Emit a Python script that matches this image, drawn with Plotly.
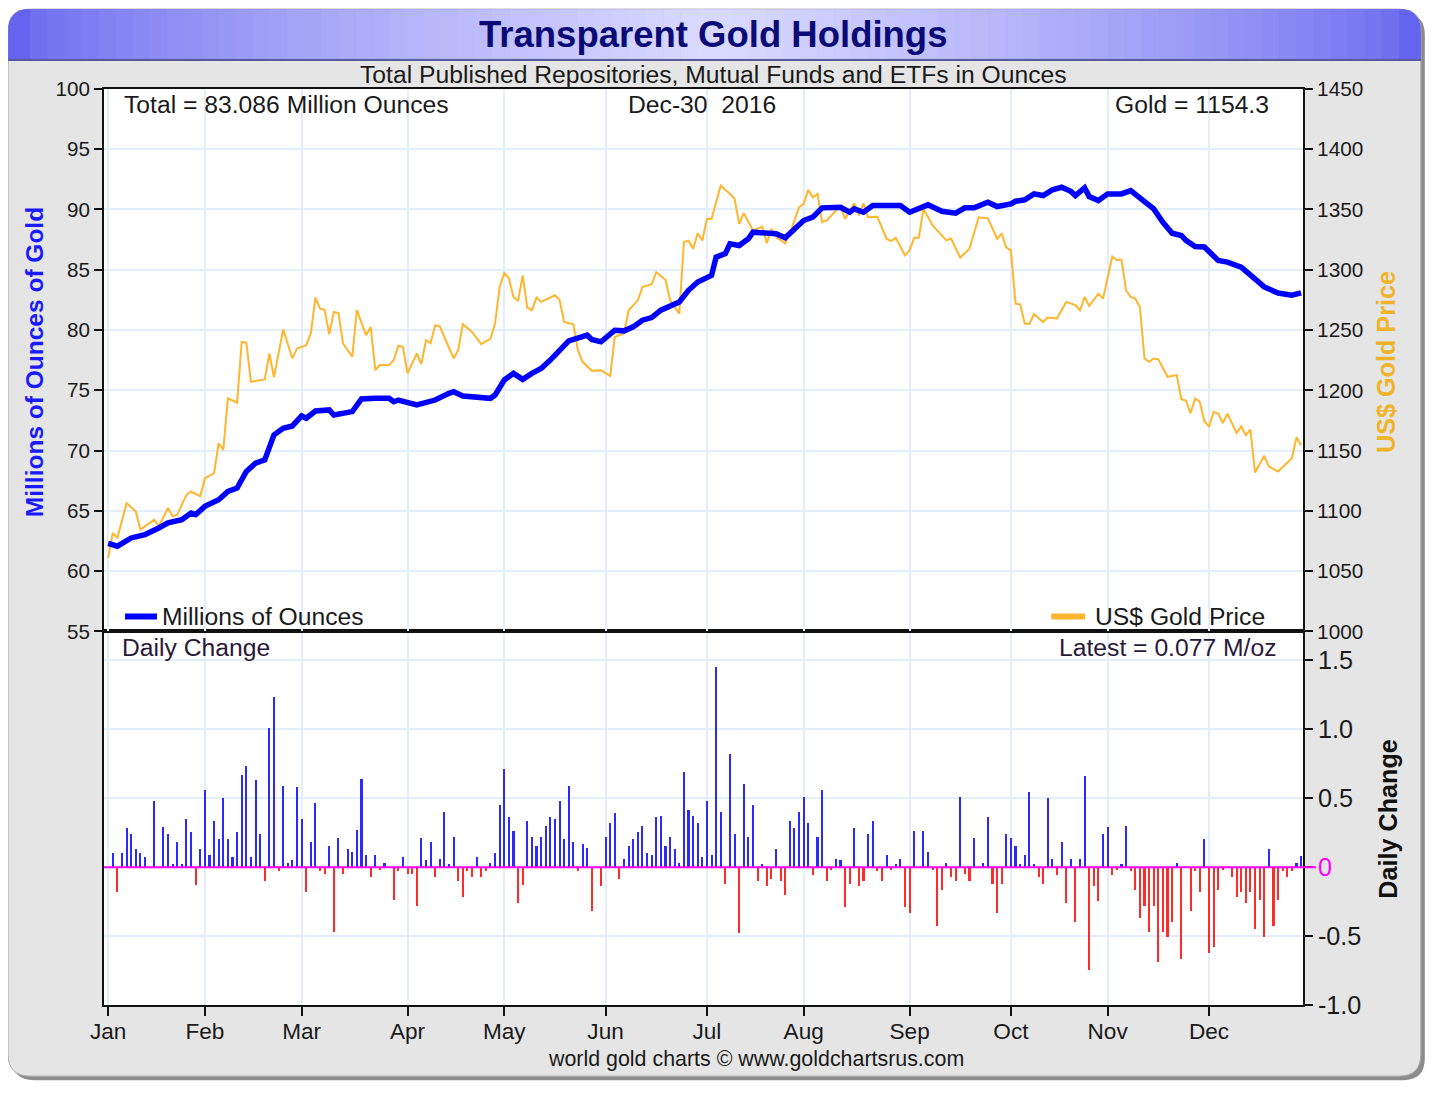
import plotly.graph_objects as go

# ---------------- data ----------------
month_names = ["Jan", "Feb", "Mar", "Apr", "May", "Jun", "Jul", "Aug", "Sep", "Oct", "Nov", "Dec"]
month_start_day = [0, 21, 42, 65, 86, 108, 130, 151, 174, 196, 217, 239]   # weekday index in 2016

hold_day = [0, 2, 5, 8, 11, 13, 16, 18, 19, 21, 24, 26, 28, 30, 32, 34, 36, 38, 40, 42, 43, 45, 48, 49,
            53, 55, 58, 61, 62, 63, 67, 71, 74, 75, 77, 80, 83, 84, 86, 88, 90, 92, 94, 96, 98, 100,
            104, 105, 107, 108, 110, 112, 114, 116, 118, 120, 123, 124, 126, 128, 131, 132, 134, 135,
            137, 139, 140, 143, 145, 147, 149, 151, 153, 155, 159, 161, 162, 164, 166, 172, 174, 176,
            178, 181, 184, 186, 188, 191, 193, 196, 197, 199, 201, 203, 205, 207, 209, 210, 212, 213,
            215, 217, 220, 222, 224, 227, 229, 231, 233, 234, 236, 238, 241, 243, 246, 248, 251, 254,
            257, 259]
hold_moz = [62.3, 62.07, 62.75, 63.03, 63.58, 64.0, 64.27, 64.82, 64.68, 65.37, 65.92, 66.61, 66.89,
            68.26, 68.96, 69.23, 71.3, 71.85, 72.04, 72.87, 72.68, 73.28, 73.37, 72.95, 73.23, 74.28,
            74.33, 74.33, 74.05, 74.19, 73.78, 74.19, 74.75, 74.88, 74.52, 74.47, 74.33, 74.6, 75.85,
            76.4, 75.9, 76.4, 76.81, 77.5, 78.33, 79.1, 79.57, 79.21, 79.02, 79.3, 79.98, 79.93, 80.26,
            80.81, 81.03, 81.64, 82.13, 82.33, 83.29, 83.98, 84.53, 86.05, 86.33, 87.15, 87.01, 87.57,
            88.11, 88.03, 87.98, 87.65, 88.4, 89.08, 89.36, 90.13, 90.18, 89.77, 90.05, 89.77, 90.32,
            90.32, 89.77, 90.05, 90.38, 89.85, 89.69, 90.13, 90.13, 90.6, 90.24, 90.46, 90.68, 90.8,
            91.29, 91.15, 91.62, 91.84, 91.5, 91.15, 91.79, 91.07, 90.74, 91.29, 91.29, 91.56, 91.01,
            90.05, 88.94, 88.03, 87.84, 87.43, 86.93, 86.88, 85.77, 85.63, 85.22, 84.53, 83.57, 83.07,
            82.88, 83.086]

gold_day = [0, 1, 2, 4, 6, 7, 8, 10, 11, 13, 14, 15, 17, 18, 20, 21, 23, 24, 25, 26, 28, 29, 30, 31,
            34, 35, 36, 38, 40, 41, 43, 44, 45, 46, 47, 48, 49, 50, 51, 53, 54, 56, 57, 58, 59, 61, 62,
            63, 64, 65, 67, 68, 69, 70, 71, 72, 75, 76, 77, 79, 81, 83, 84, 85, 86, 87, 88, 89, 90, 91,
            92, 93, 94, 97, 98, 99, 101, 102, 103, 105, 107, 109, 110, 112, 113, 115, 116, 118, 119,
            121, 122, 124, 125, 126, 127, 128, 129, 130, 131, 133, 135, 136, 137, 138, 140, 142, 143,
            144, 145, 147, 148, 150, 151, 152, 153, 154, 155, 156, 158, 159, 160, 162, 163, 164, 165,
            167, 169, 170, 171, 173, 174, 175, 176, 177, 179, 182, 183, 185, 187, 189, 191, 193, 194,
            195, 196, 197, 198, 199, 200, 201, 203, 204, 206, 208, 210, 211, 212, 213, 215, 216, 218,
            219, 220, 221, 222, 223, 224, 225, 226, 227, 228, 230, 232, 233, 234, 235, 236, 237, 238,
            239, 240, 241, 242, 243, 245, 246, 247, 248, 249, 251, 252, 254, 257, 258, 259]
gold_price = [1061, 1081.6, 1077.5, 1106.4, 1099.5, 1084.4, 1087.1, 1092.6, 1087.1, 1102.3, 1095.4,
              1096.7, 1113.3, 1116, 1112, 1127.1, 1131.3, 1156.1, 1150.5, 1193.3, 1189.7, 1240.1,
              1239.6, 1207, 1209, 1230.5, 1210.7, 1250.4, 1226.4, 1234.7, 1237.4, 1247.1, 1276.9,
              1267.8, 1266.5, 1246.5, 1265, 1264, 1238.8, 1227.8, 1266.4, 1245.7, 1252.5, 1216.7,
              1220.9, 1220.9, 1225, 1237, 1236, 1214, 1230.5, 1221.7, 1241.5, 1239, 1254, 1253,
              1226.4, 1233.3, 1254.8, 1248.4, 1238.2, 1242.9, 1255.3, 1285.7, 1297.2, 1293, 1277.4,
              1274.1, 1295.3, 1268.6, 1266.4, 1276.9, 1273.3, 1278.8, 1275, 1256.7, 1254.8, 1233.3,
              1223.6, 1216.2, 1216.5, 1211.8, 1244.3, 1247.1, 1266.4, 1274.6, 1285.7, 1287.9, 1298,
              1291.7, 1274.6, 1263.6, 1322.9, 1324, 1317.4, 1330.3, 1324.3, 1342.2, 1342, 1369.8,
              1362.9, 1358.8, 1338.1, 1346.9, 1332.5, 1335.8, 1322, 1333.9, 1327, 1322, 1329.8,
              1351.8, 1354.6, 1366.2, 1360.1, 1362.9, 1339.5, 1340.9, 1349.1, 1351.8, 1342.2, 1355.2,
              1345, 1355, 1343.5, 1344, 1325.7, 1323.7, 1326.5, 1311.9, 1316, 1326.5, 1326.5, 1350.5,
              1336.7, 1324.3, 1325.9, 1310, 1317.4, 1343.5, 1342.6, 1325.7, 1329.8, 1318.4, 1316,
              1271.9, 1271.3, 1255.3, 1255, 1263.1, 1256.7, 1260.3, 1259.5, 1273.3, 1270.6, 1266.4,
              1277.4, 1270, 1280.1, 1276, 1311, 1307.9, 1308.4, 1282.9, 1277.4, 1276, 1269.1, 1226.4,
              1223.6, 1226.4, 1225.7, 1211.2, 1212.6, 1192.5, 1191.5, 1180.9, 1193.3, 1190.5, 1174.3,
              1170.1, 1182, 1180.6, 1172.9, 1180.6, 1164.6, 1170.1, 1162.7, 1167.4, 1131.8, 1145.6,
              1136.8, 1132.6, 1143.7, 1161, 1154.3]

# daily change in million oz, one value per weekday (index 0 = Jan 1 2016), 0 = no change / no data
daily_change = [
    0, 0.10, -0.18, 0.10, 0.28, 0.24, 0.13, 0.10, 0.07, 0, 0.48, 0, 0.29, 0.24, 0.02, 0.18, 0.02, 0.35,
    0.25, -0.13, 0.13, 0.56, 0.09, 0.33, 0.20, 0.50, 0.20, 0.07, 0.25, 0.67, 0.73, 0.07, 0.63, 0.24,
    -0.10, 1.01, 1.23, -0.03, 0.59, 0.03, 0.05, 0.58, 0.35, -0.18, 0.18, 0.46, -0.03, -0.05, 0.15, -0.47,
    0.21, -0.05, 0.13, 0.11, 0.27, 0.64, 0.09, -0.07, 0.09, -0.02, 0.03, 0, -0.24, -0.03, 0.07, -0.05,
    -0.05, -0.28, 0.21, 0.05, 0.18, -0.07, 0.06, 0.40, 0.02, 0.22, -0.10, -0.22, -0.03, -0.07, 0.07,
    -0.07, -0.03, 0.03, 0.10, 0.45, 0.71, 0.36, 0.26, -0.26, -0.13, 0.33, 0.22, 0.15, 0.22, 0.30, 0.36,
    0.35, 0.48, 0.20, 0.59, 0.18, -0.03, 0.17, 0.14, -0.32, 0, -0.14, 0.22, 0.32, 0.39, -0.09, 0.06,
    0.15, 0.20, 0.25, 0.30, 0.10, 0.09, 0.36, 0.37, 0.15, 0.22, 0.13, 0.03, 0.69, 0.41, 0.37, 0.32,
    0.07, 0.48, 0.09, 1.45, 0.40, -0.12, 0.82, 0.24, -0.48, 0.60, 0.22, 0.45, -0.10, 0.02, -0.14, -0.09,
    0.13, -0.10, -0.20, 0.33, 0.28, 0.40, 0.51, 0.32, -0.06, 0.22, 0.56, -0.10, -0.02, 0.06, 0.05,
    -0.29, -0.12, 0.28, -0.14, -0.10, 0.24, 0.33, -0.03, -0.10, 0.09, -0.02, 0.02, 0.06, -0.29, -0.33,
    0.26, 0, 0.26, 0.11, -0.02, -0.43, -0.17, 0.03, -0.07, -0.10, 0.51, -0.05, -0.10, 0.21, 0, 0.03,
    0.36, -0.12, -0.33, -0.12, 0.24, 0.21, 0.15, 0.02, 0.09, 0.54, 0.02, -0.07, -0.12, 0.50, 0.06,
    -0.06, 0.18, -0.26, 0.06, -0.40, 0.06, 0.66, -0.75, -0.14, -0.25, 0.24, 0.29, -0.06, -0.02, 0.02,
    0.30, -0.03, -0.17, -0.37, -0.28, -0.47, -0.28, -0.69, -0.47, -0.51, -0.40, 0.03, -0.67, 0, -0.32,
    -0.03, -0.18, 0.20, -0.62, -0.58, -0.17, -0.02, 0, -0.07, -0.22, -0.18, -0.26, -0.18, -0.45, -0.24,
    -0.51, 0.13, -0.43, -0.24, -0.03, -0.07, -0.03, 0.03, 0.077]

left_range = [55, 100]
right_range = [1000, 1450]
change_range = [-1.0, 1.71]
change_ticks = [-1.0, -0.5, 0, 0.5, 1.0, 1.5]

# ---------------- layout helpers (target screen pixel -> paper) ----------------
W, H, OFF = 1418, 1079, 8
# measured render mapping: screen = A + B * page
AX, BX, AY, BY = 15.0, 0.991, 11.1, 0.9786
FONT = "Arial, Liberation Sans, sans-serif"


def PX(x):
    q = (x - AX) / BX
    return (q - OFF) / W


def PY(y):
    q = (y - AY) / BY
    return 1 - (q - OFF) / H


def rrect_path(x0, y0, x1, y1, r, top_only=False):
    if top_only:
        return (f"M {PX(x0)},{PY(y1)} L {PX(x0)},{PY(y0 + r)} Q {PX(x0)},{PY(y0)} {PX(x0 + r)},{PY(y0)} "
                f"L {PX(x1 - r)},{PY(y0)} Q {PX(x1)},{PY(y0)} {PX(x1)},{PY(y0 + r)} L {PX(x1)},{PY(y1)} Z")
    return (f"M {PX(x0 + r)},{PY(y0)} L {PX(x1 - r)},{PY(y0)} Q {PX(x1)},{PY(y0)} {PX(x1)},{PY(y0 + r)} "
            f"L {PX(x1)},{PY(y1 - r)} Q {PX(x1)},{PY(y1)} {PX(x1 - r)},{PY(y1)} "
            f"L {PX(x0 + r)},{PY(y1)} Q {PX(x0)},{PY(y1)} {PX(x0)},{PY(y1 - r)} "
            f"L {PX(x0)},{PY(y0 + r)} Q {PX(x0)},{PY(y0)} {PX(x0 + r)},{PY(y0)} Z")


PL, PR, PT, PM, PB = 105, 1305, 88, 632, 1007   # plot edges in screen px
BL, BT, BR, BB = 9, 8, 1423, 1078                # outer panel

shapes = []
shapes.append(dict(type="path", path=rrect_path(BL + 4, BT + 4, BR + 4, BB + 4, 22), xref="paper",
                   yref="paper", fillcolor="#8c8c8c", line=dict(width=0), layer="below"))
shapes.append(dict(type="path", path=rrect_path(BL, BT, BR, BB, 22), xref="paper", yref="paper",
                   fillcolor="#e5e5e5", line=dict(color="#a8a8a8", width=1), layer="below"))
edge = (100, 100, 238)
mid = (218, 218, 255)
shapes.append(dict(type="path", path=rrect_path(BL, BT, BR, 58, 22, top_only=True), xref="paper",
                   yref="paper", fillcolor="rgb(%d,%d,%d)" % edge, line=dict(width=0), layer="below"))
n = 80
sx0, sx1 = BL + 22, BR - 22
for k in range(n):
    xa = sx0 + (sx1 - sx0) * k / n
    xb = sx0 + (sx1 - sx0) * (k + 1) / n
    t = ((xa + xb) / 2 - BL) / (BR - BL)
    f = (1 - abs(2 * t - 1)) ** 0.7
    col = tuple(int(round(edge[i] + (mid[i] - edge[i]) * f)) for i in range(3))
    shapes.append(dict(type="rect", xref="paper", yref="paper", x0=PX(xa), x1=PX(xb + 0.6),
                       y0=PY(58), y1=PY(BT), fillcolor="rgb(%d,%d,%d)" % col, line=dict(width=0),
                       layer="below"))
shapes.append(dict(type="line", xref="paper", yref="paper", x0=PX(BL), x1=PX(BR), y0=PY(59), y1=PY(59),
                   line=dict(color="#58589a", width=2), layer="below"))
shapes.append(dict(type="rect", xref="paper", yref="paper", x0=PX(PL), x1=PX(PR), y0=PY(PB), y1=PY(PT),
                   fillcolor="white", line=dict(width=0), layer="below"))
shapes.append(dict(type="line", xref="paper", yref="y3", x0=PX(PL), x1=PX(1318), y0=0, y1=0,
                   line=dict(color="#ff00ff", width=2), layer="above"))
shapes.append(dict(type="line", xref="paper", yref="paper", x0=PX(126), x1=PX(158), y0=PY(617), y1=PY(617),
                   line=dict(color="#0000ff", width=6), layer="above"))
shapes.append(dict(type="line", xref="paper", yref="paper", x0=PX(1053), x1=PX(1087), y0=PY(617),
                   y1=PY(617), line=dict(color="#ffb52e", width=6), layer="above"))


def ann(text, x, y, size=24.7, color="#1a1a1a", xanchor="center", angle=0):
    return dict(text=text, x=PX(x), y=PY(y), xref="paper", yref="paper", showarrow=False,
                xanchor=xanchor, yanchor="middle", textangle=angle,
                font=dict(family=FONT, size=size, color=color))


annotations = [
    ann("<b>Transparent Gold Holdings</b>", 715, 33, size=36.5, color="#0b0b78"),
    ann("Total Published Repositories, Mutual Funds and ETFs in Ounces", 715, 74),
    ann("Total = 83.086 Million Ounces", 123, 104, xanchor="left"),
    ann("Dec-30&nbsp; 2016", 627, 104, xanchor="left"),
    ann("Gold = 1154.3", 1273, 104, xanchor="right"),
    ann("Millions of Ounces", 161, 617, xanchor="left"),
    ann("US$ Gold Price", 1095, 617, xanchor="left"),
    ann("Daily Change", 121, 648, xanchor="left", color="#2a1838"),
    ann("Latest = 0.077 M/oz", 1281, 648, xanchor="right", color="#2a1838"),
    ann("world gold charts © www.goldchartsrus.com", 758, 1061, size=21.4),
    ann("<b>Millions of Ounces of Gold</b>", 35, 362, size=24.5, color="#1a1aff", angle=-90),
    ann("<b>US$ Gold Price</b>", 1388, 362, size=25.2, color="#f0b42a", angle=-90),
    ann("<b>Daily Change</b>", 1390, 820, size=25.2, color="#111111", angle=-90),
]

bar_colors = ["#2a2aff" if v >= 0 else "#ff2a2a" for v in daily_change]

fig = go.Figure()
fig.add_trace(go.Bar(x=list(range(len(daily_change))), y=daily_change, width=0.45,
                     marker=dict(color=bar_colors, line=dict(width=0)), xaxis="x", yaxis="y3",
                     showlegend=False))
fig.add_trace(go.Scatter(x=gold_day, y=gold_price, mode="lines", line=dict(color="#ffb52e", width=2),
                         xaxis="x2", yaxis="y", showlegend=False))
fig.add_trace(go.Scatter(x=hold_day, y=hold_moz, mode="lines", line=dict(color="#0000ff", width=5.5),
                         xaxis="x2", yaxis="y2", showlegend=False))

grid = "#e2eef9"
axis_line = dict(showline=True, linecolor="#111111", linewidth=2, zeroline=False)
xdom = [PX(PL), PX(PR)]
xrng = [-0.9, 259.4]

fig.update_layout(
    width=W, height=H, autosize=False,
    margin=dict(l=0, r=0, t=0, b=0),
    paper_bgcolor="white", plot_bgcolor="rgba(0,0,0,0)",
    bargap=0,
    shapes=shapes, annotations=annotations,
    xaxis=dict(domain=xdom, anchor="y3", range=xrng, tickmode="array", tickvals=month_start_day,
               ticktext=month_names, ticks="outside", ticklen=9, tickwidth=1.5, tickcolor="#111",
               ticklabelstandoff=-4,
               showgrid=True, gridcolor=grid, gridwidth=2, mirror=True,
               tickfont=dict(family=FONT, size=22.6, color="#1a1a1a"), **axis_line),
    xaxis2=dict(domain=xdom, anchor="y", matches="x", range=xrng, tickmode="array",
                tickvals=month_start_day, showticklabels=False, ticks="", showgrid=True,
                gridcolor=grid, gridwidth=2, mirror=True, **axis_line),
    yaxis=dict(domain=[PY(PM), PY(PT)], anchor="x2", side="right", range=right_range, dtick=50,
               tick0=1000, ticks="outside", ticklen=8, tickwidth=1.5, tickcolor="#111",
               showgrid=True, gridcolor=grid, gridwidth=2,
               tickfont=dict(family=FONT, size=20.8, color="#1a1a1a"), **axis_line),
    yaxis2=dict(overlaying="y", anchor="x2", side="left", range=left_range, dtick=5, tick0=55,
                ticks="outside", ticklen=8, tickwidth=1.5, tickcolor="#111", showgrid=False,
                tickfont=dict(family=FONT, size=20.6, color="#1a1a1a"), **axis_line),
    yaxis3=dict(domain=[PY(PB), PY(PM)], anchor="x", side="right", range=change_range,
                tickmode="array", tickvals=change_ticks,
                ticktext=["-1.0", "-0.5", '<span style="color:#ff00ff">0</span>', "0.5", "1.0", "1.5"],
                ticks="outside", ticklen=8, tickwidth=1.5, tickcolor="#111", showgrid=True,
                gridcolor=grid, gridwidth=2, mirror=True,
                tickfont=dict(family=FONT, size=25.2, color="#1a1a1a"), **axis_line),
)

fig.write_html("out.html")
